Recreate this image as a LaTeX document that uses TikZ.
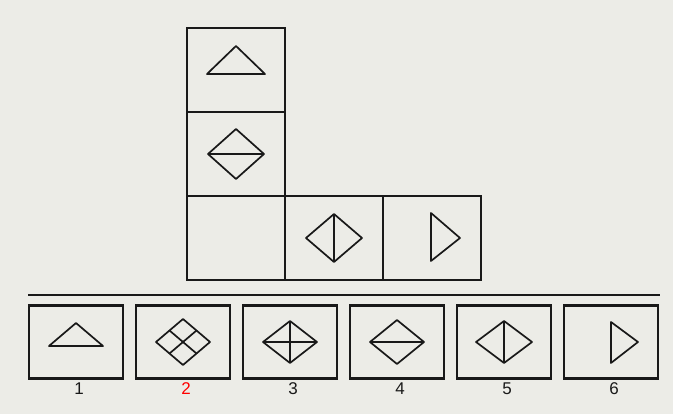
\documentclass[tikz,border=0pt]{standalone}
\usepackage{fontspec}
\setmainfont{Liberation Sans}
\usetikzlibrary{positioning}
\definecolor{paper}{RGB}{236,236,231}
\definecolor{ink}{RGB}{25,25,25}
\tikzset{
  cell/.style={draw=ink, line width=2.2pt, minimum width=98pt, minimum height=84pt, inner sep=0pt, outer sep=0pt},
  option/.style={draw=ink, line width=2.2pt, minimum width=94pt, minimum height=73pt, inner sep=0pt, outer sep=0pt}
}
\tikzset{
  fig/.style={draw=ink, line width=1.7pt, line join=round}
}
\tikzset{
  numlabel/.style={font=\fontsize{17}{19}\selectfont, text=ink, xshift=3pt}
}
% diamond: node, half width, half height
\newcommand{\rhomb}[3]{\draw[fig] ([shift={(-#2,0)}]#1.center) -- ([shift={(0,-#3)}]#1.center) -- ([shift={(#2,0)}]#1.center) -- ([shift={(0,#3)}]#1.center) -- cycle;}
\newcommand{\crossh}[2]{\draw[fig] ([shift={(-#2,0)}]#1.center) -- ([shift={(#2,0)}]#1.center);}
\newcommand{\crossv}[2]{\draw[fig] ([shift={(0,-#2)}]#1.center) -- ([shift={(0,#2)}]#1.center);}

\begin{document}
\begin{tikzpicture}[x=1pt, y=-1pt]
      \useasboundingbox[fill=paper] (0,0) rectangle (673,414);
      % figure to fold
      \node[cell] (corner) at (236,238) {};
      \node[cell, above=0pt of corner] (mid) {};
      \node[cell, above=0pt of mid] (top) {};
      \node[cell, right=0pt of corner] (right1) {};
      \node[cell, right=0pt of right1] (right2) {};
      \draw[fig] ([shift={(-29,4)}]top.center) -- ([shift={(0,-24)}]top.center) -- ([shift={(29,4)}]top.center) -- cycle;
      \rhomb{mid}{28}{25}
      \crossh{mid}{28}
      \rhomb{right1}{28}{24}
      \crossv{right1}{24}
      \draw[fig] ([shift={(-1,-25)}]right2.center) -- ([shift={(28,0)}]right2.center) -- ([shift={(-1,23)}]right2.center) -- cycle;
      % separator
      \coordinate (sepl) at (28,295);
      \coordinate (sepr) at (660,295);
      \draw[ink, line width=1.8pt] (sepl) -- (sepr);
      % answer options
      \node[option] (opt1) at (76,342) {};
      \node[option, right=13pt of opt1] (opt2) {};
      \node[option, right=13pt of opt2] (opt3) {};
      \node[option, right=13pt of opt3] (opt4) {};
      \node[option, right=13pt of opt4] (opt5) {};
      \node[option, right=13pt of opt5] (opt6) {};
      \draw[fig] ([shift={(-27,4)}]opt1.center) -- ([shift={(0,-19)}]opt1.center) -- ([shift={(27,4)}]opt1.center) -- cycle;
      \rhomb{opt2}{27}{23}
      \draw[fig] ([shift={(-13.5,-11.5)}]opt2.center) -- ([shift={(13.5,11.5)}]opt2.center);
      \draw[fig] ([shift={(13.5,-11.5)}]opt2.center) -- ([shift={(-13.5,11.5)}]opt2.center);
      \rhomb{opt3}{27}{21}
      \crossh{opt3}{27}
      \crossv{opt3}{21}
      \rhomb{opt4}{27}{22}
      \crossh{opt4}{27}
      \rhomb{opt5}{28}{21}
      \crossv{opt5}{21}
      \draw[fig] ([shift={(0,-20)}]opt6.center) -- ([shift={(27,0)}]opt6.center) -- ([shift={(0,21)}]opt6.center) -- cycle;
      \node[numlabel, below=1pt of opt1] (lab1) {1};
      \node[numlabel, below=1pt of opt2, text=red] (lab2) {2};
      \node[numlabel, below=1pt of opt3] (lab3) {3};
      \node[numlabel, below=1pt of opt4] (lab4) {4};
      \node[numlabel, below=1pt of opt5] (lab5) {5};
      \node[numlabel, below=1pt of opt6] (lab6) {6};
    \end{tikzpicture}
\end{document}
